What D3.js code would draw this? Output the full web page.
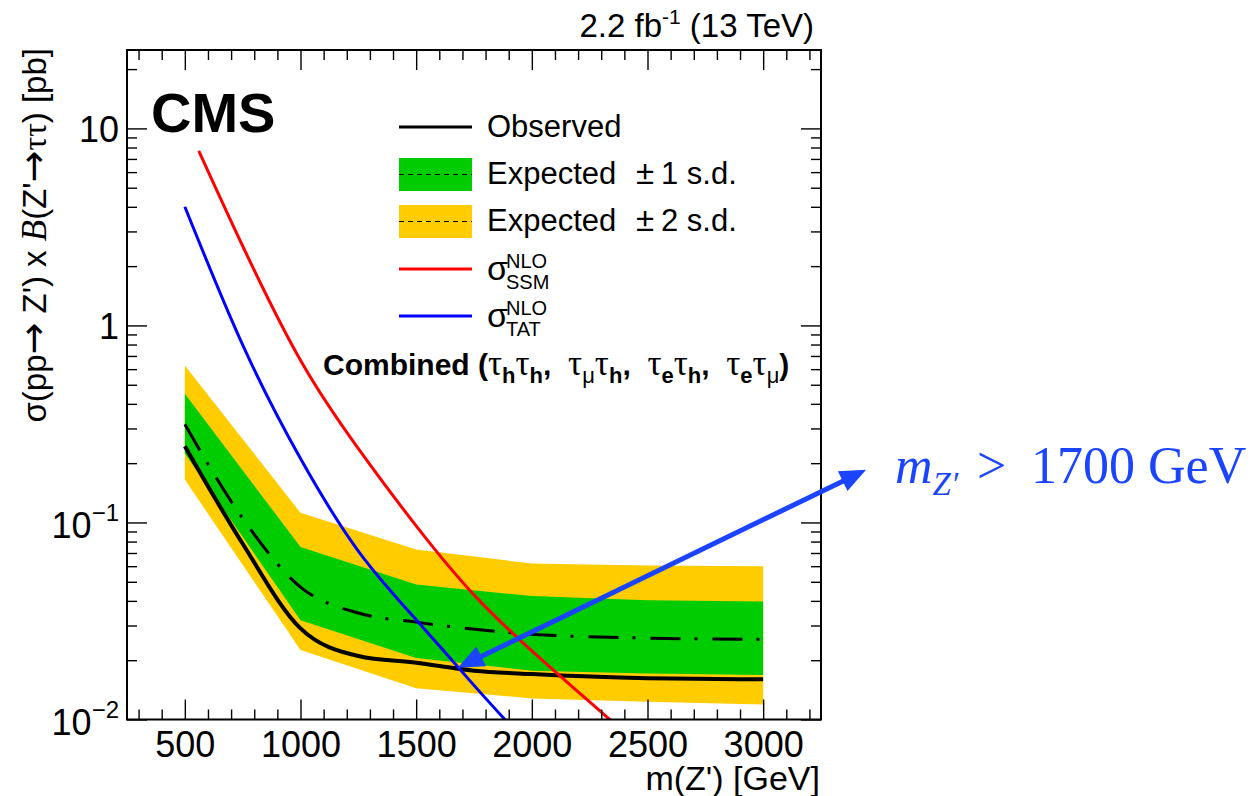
<!DOCTYPE html>
<html><head><meta charset="utf-8">
<script src="https://cdn.jsdelivr.net/npm/d3@7"></script>
<style>body{margin:0;background:#fff}</style>
</head><body>
<script>
// ---- data ----
const massBand = [500, 1000, 1500, 2000, 2500, 3000];
const exp2Up = [0.627, 0.112, 0.0729, 0.0619, 0.0605, 0.060];
const exp1Up = [0.45, 0.0751, 0.0485, 0.0423, 0.0403, 0.0397];
const exp1Dn = [0.224, 0.0319, 0.0205, 0.0177, 0.0171, 0.0168];
const exp2Dn = [0.165, 0.0225, 0.0144, 0.0128, 0.0123, 0.0119];
const massExp = [500, 750, 1000, 1250, 1500, 2000, 2500, 3000];
const expMedian = [0.315, 0.105, 0.047, 0.0347, 0.0312, 0.0271, 0.0259, 0.0255];
const massObs = [500, 750, 1000, 1250, 1500, 1750, 2000, 2500, 3000];
const observed = [0.244, 0.078, 0.029, 0.0210, 0.0194, 0.0177, 0.0170, 0.0162, 0.0160];
const massSSM = [560, 750, 1000, 1250, 1500, 1750, 2000, 2250, 2500];
const sigmaSSM = [7.7, 2.53, 0.665, 0.237, 0.0961, 0.0429, 0.0223, 0.01227, 0.0068];
const massTAT = [500, 750, 1000, 1250, 1500, 1750, 2000];
const sigmaTAT = [4.0, 0.796, 0.211, 0.0716, 0.0321, 0.0149, 0.0071];
const xTickValues = [500, 1000, 1500, 2000, 2500, 3000];
const xTickLabels = ["500", "1000", "1500", "2000", "2500", "3000"];
const yTickValues = [0.01, 0.1, 1, 10];
const yTickBase = ["10", "10", "1", "10"];
const yTickExp = ["\u22122", "\u22121", "", ""];
const limitMass = [1680, 0.0183];   // observed/TAT crossing the arrow points to
const arrowEnd = [3445, 0.185];      // far end of the annotation arrow

// ---- setup ----
const W = 1254, H = 796;
const SANS = "'Liberation Sans', Arial, Helvetica, sans-serif";
const SERIF = "'Liberation Serif', 'Times New Roman', serif";
const M = {left: 127, right: 821, top: 50, bottom: 719.5};
const svg = d3.select("body").append("svg").attr("width", W).attr("height", H)
  .style("font-family", SANS);
const x = d3.scaleLinear().domain([250, 3250]).range([M.left, M.right]);
const y = d3.scaleLog().domain([0.01, 25]).range([M.bottom, M.top]);

svg.append("defs").append("clipPath").attr("id", "clip")
  .append("rect").attr("x", M.left).attr("y", M.top)
  .attr("width", M.right - M.left).attr("height", M.bottom - M.top);

const plot = svg.append("g").attr("clip-path", "url(#clip)");

const band = (lo, hi) => d3.area()
  .x((d, i) => x(massBand[i])).y0((d, i) => y(lo[i])).y1((d, i) => y(hi[i]))(massBand);
plot.append("path").attr("d", band(exp2Dn, exp2Up)).attr("fill", "#ffcc00");
plot.append("path").attr("d", band(exp1Dn, exp1Up)).attr("fill", "#00cc00");

const line = d3.line().x(d => x(d[0])).y(d => y(d[1])).curve(d3.curveMonotoneX);
const smooth = d3.line().x(d => x(d[0])).y(d => y(d[1])).curve(d3.curveNatural);
const zip = (a, b) => a.map((v, i) => [v, b[i]]);

plot.append("path").attr("d", line(zip(massExp, expMedian)))
  .attr("fill", "none").attr("stroke", "#000").attr("stroke-width", 3)
  .attr("stroke-dasharray", "30,14,3,15");
plot.append("path").attr("d", line(zip(massObs, observed)))
  .attr("fill", "none").attr("stroke", "#000").attr("stroke-width", 4);
plot.append("path").attr("d", smooth(zip(massSSM, sigmaSSM)))
  .attr("fill", "none").attr("stroke", "#ff0000").attr("stroke-width", 3);
plot.append("path").attr("d", smooth(zip(massTAT, sigmaTAT)))
  .attr("fill", "none").attr("stroke", "#0000ff").attr("stroke-width", 3);

// ---- axes ----
const xMinor = d3.range(300, 3300, 100).filter(v => v % 500 !== 0);
const yMinor = [];
[0.01, 0.1, 1, 10].forEach(d => { for (let k = 2; k <= 9; k++) { const v = k * d; if (v <= 25) yMinor.push(v); } });

function styleAxis(g) {
  g.select(".domain").remove();
  g.selectAll(".tick line").attr("stroke", "#000").attr("stroke-width", 1.4);
}
svg.append("g").attr("transform", `translate(0,${M.bottom})`)
  .call(d3.axisBottom(x).tickValues(xTickValues).tickSize(-20).tickPadding(12)
    .tickFormat((d, i) => xTickLabels[i]))
  .call(styleAxis)
  .call(g => g.selectAll("text").attr("font-size", 36).attr("fill", "#000").attr("font-family", SANS));
svg.append("g").attr("transform", `translate(0,${M.bottom})`)
  .call(d3.axisBottom(x).tickValues(xMinor).tickSize(-10).tickFormat(""))
  .call(styleAxis);
svg.append("g").attr("transform", `translate(0,${M.top})`)
  .call(d3.axisTop(x).tickValues(xTickValues).tickSize(-20).tickFormat(""))
  .call(styleAxis);
svg.append("g").attr("transform", `translate(0,${M.top})`)
  .call(d3.axisTop(x).tickValues(xMinor).tickSize(-10).tickFormat(""))
  .call(styleAxis);
svg.append("g").attr("transform", `translate(${M.left},0)`)
  .call(d3.axisLeft(y).tickValues(yTickValues).tickSize(-20).tickPadding(8).tickFormat(""))
  .call(styleAxis)
  .call(g => g.selectAll(".tick text").each(function(d, i) {
    const t = d3.select(this).attr("font-size", 36).attr("fill", "#000").attr("font-family", SANS)
      .attr("dy", yTickExp[i] ? "0.42em" : "0.36em");
    t.append("tspan").text(yTickBase[i]);
    if (yTickExp[i]) t.append("tspan").attr("font-size", 24).attr("dy", -17).text(yTickExp[i]);
  }));
svg.append("g").attr("transform", `translate(${M.left},0)`)
  .call(d3.axisLeft(y).tickValues(yMinor).tickSize(-10).tickFormat(""))
  .call(styleAxis);
svg.append("g").attr("transform", `translate(${M.right},0)`)
  .call(d3.axisRight(y).tickValues(yTickValues).tickSize(-20).tickFormat(""))
  .call(styleAxis);
svg.append("g").attr("transform", `translate(${M.right},0)`)
  .call(d3.axisRight(y).tickValues(yMinor).tickSize(-10).tickFormat(""))
  .call(styleAxis);

svg.append("rect").attr("x", M.left).attr("y", M.top)
  .attr("width", M.right - M.left).attr("height", M.bottom - M.top)
  .attr("fill", "none").attr("stroke", "#000").attr("stroke-width", 2);

// ---- axis titles ----
svg.append("text").attr("x", 820).attr("y", 790).attr("text-anchor", "end")
  .attr("font-size", 34).text("m(Z') [GeV]");

const yt = svg.append("text").attr("transform", "translate(46,48) rotate(-90)")
  .attr("text-anchor", "end").attr("font-size", 33);
yt.append("tspan").text("\u03c3(pp");
yt.append("tspan").attr("font-family", "'DejaVu Sans', sans-serif").attr("font-size", 38).text("\u2192");
yt.append("tspan").text(" Z') x ");
yt.append("tspan").attr("font-family", SERIF).attr("font-style", "italic").attr("font-size", 35).text("B");
yt.append("tspan").text("(Z'");
yt.append("tspan").attr("font-family", "'DejaVu Sans', sans-serif").attr("font-size", 38).text("\u2192");
yt.append("tspan").attr("font-family", SERIF).attr("font-size", 34).text("\u03c4\u03c4");
yt.append("tspan").text(") [pb]");

const lumi = svg.append("text").attr("x", 814).attr("y", 37).attr("text-anchor", "end").attr("font-size", 33);
lumi.append("tspan").text("2.2 fb");
lumi.append("tspan").attr("font-size", 21).attr("dy", -13).text("-1");
lumi.append("tspan").attr("dy", 13).text(" (13 TeV)");

svg.append("text").attr("x", 151).attr("y", 132).attr("font-size", 56).attr("font-weight", "bold").text("CMS");

// ---- legend ----
const L = svg.append("g");
const lx0 = 399, lx1 = 472, tx = 487;
L.append("line").attr("x1", lx0).attr("x2", lx1).attr("y1", 127).attr("y2", 127).attr("stroke", "#000").attr("stroke-width", 3);
L.append("text").attr("x", tx).attr("y", 137).attr("font-size", 31).text("Observed");

[[158, "#00cc00", "1"], [205, "#ffcc00", "2"]].forEach(([ry, col, n]) => {
  L.append("rect").attr("x", lx0).attr("y", ry).attr("width", lx1 - lx0).attr("height", 33).attr("fill", col);
  L.append("line").attr("x1", lx0).attr("x2", lx1).attr("y1", ry + 16.5).attr("y2", ry + 16.5)
    .attr("stroke", "#000").attr("stroke-width", 1).attr("stroke-dasharray", "5,4");
  const t = L.append("text").attr("y", ry + 26).attr("font-size", 31);
  t.append("tspan").attr("x", tx).text("Expected");
  t.append("tspan").attr("x", 636).attr("font-size", 33).text("\u00b1");
  t.append("tspan").attr("x", 661).text(n + " s.d.");
});

[[269, "#ff0000", "SSM"], [316, "#0000ff", "TAT"]].forEach(([ly, col, sub]) => {
  L.append("line").attr("x1", lx0).attr("x2", lx1).attr("y1", ly).attr("y2", ly).attr("stroke", col).attr("stroke-width", 3);
  L.append("text").attr("x", tx).attr("y", ly + 11).attr("font-size", 34).text("\u03c3");
  L.append("text").attr("x", 506).attr("y", ly - 1).attr("font-size", 20).text("NLO");
  L.append("text").attr("x", 506).attr("y", ly + 20).attr("font-size", 20).text(sub);
});

const comb = L.append("text").attr("x", 323).attr("y", 375).attr("font-size", 30)
  .attr("font-weight", "bold").style("white-space", "pre");
comb.append("tspan").text("Combined (");
const tau = (s1, b1, s2, b2, last) => {
  comb.append("tspan").attr("font-weight", "normal").attr("font-family", SERIF).attr("font-size", 35).text("\u03c4");
  comb.append("tspan").attr("font-size", 22).attr("dy", 8).attr("font-weight", b1 ? "bold" : "normal").text(s1);
  comb.append("tspan").attr("dy", -8).attr("font-weight", "normal").attr("font-family", SERIF).attr("font-size", 35).text("\u03c4");
  comb.append("tspan").attr("font-size", 22).attr("dy", 8).attr("font-weight", b2 ? "bold" : "normal").text(s2);
  comb.append("tspan").attr("dy", -8).text(last);
};
tau("h", true, "h", true, ",  ");
tau("\u03bc", false, "h", true, ",  ");
tau("e", true, "h", true, ",  ");
tau("e", true, "\u03bc", false, ")");

// ---- annotation arrow ----
const blue = "#1a44ff";
const p0 = [x(limitMass[0]), y(limitMass[1])];
const p1 = [x(arrowEnd[0]), y(arrowEnd[1])];
const dx = p1[0] - p0[0], dy = p1[1] - p0[1], len = Math.hypot(dx, dy);
const ux = dx / len, uy = dy / len, px = -uy, py = ux;
const hl = 26, hw = 11;
const ann = svg.append("g");
ann.append("line").attr("x1", p0[0] + ux * hl * 0.8).attr("y1", p0[1] + uy * hl * 0.8)
  .attr("x2", p1[0] - ux * hl * 0.8).attr("y2", p1[1] - uy * hl * 0.8)
  .attr("stroke", blue).attr("stroke-width", 5);
const head = (tip, s) => {
  const bx = tip[0] + s * ux * hl, by = tip[1] + s * uy * hl;
  return [[tip[0], tip[1]], [bx + px * hw, by + py * hw], [bx - px * hw, by - py * hw]].map(p => p.join(",")).join(" ");
};
ann.append("polygon").attr("points", head(p0, 1)).attr("fill", blue);
ann.append("polygon").attr("points", head(p1, -1)).attr("fill", blue);

const at = svg.append("text").attr("x", 895).attr("y", 483).attr("fill", blue)
  .attr("font-family", SERIF).attr("font-size", 52);
at.append("tspan").attr("font-style", "italic").text("m");
at.append("tspan").attr("font-style", "italic").attr("font-size", 33).attr("dy", 12).text("Z\u2032");
at.append("tspan").attr("dy", -12).attr("x", 977).text(">");
at.append("tspan").attr("x", 1031).text("1700 GeV");
</script>
</body></html>
